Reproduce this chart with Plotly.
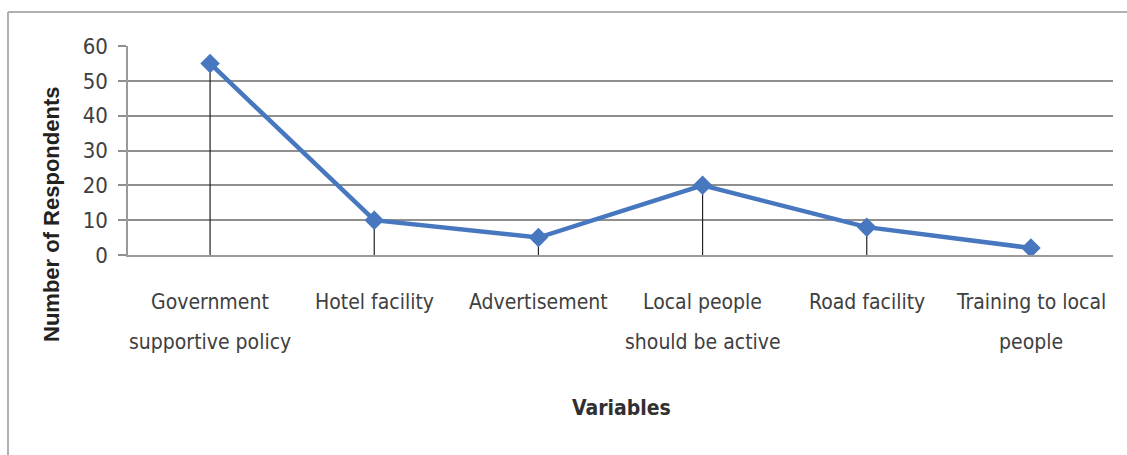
import plotly.graph_objects as go

categories = ["Government<br>supportive policy", "Hotel facility", "Advertisement",
              "Local people<br>should be active", "Road facility", "Training to local<br>people"]
respondents = [55, 10, 5, 20, 8, 2]
y_ticks = [0, 10, 20, 30, 40, 50, 60]

W, H = 1127, 455
L, R, T, B = 128, 14, 46, 200
pw, ph = W - L - R, H - T - B

def px_x(p):
    return (p - L) / pw

def px_y(p):
    return (H - B - p) / ph

NARROW = "DejaVu Sans Condensed, Roboto, sans-serif"
BLUE = "#4677BF"

fig = go.Figure()

# drop lines
fig.add_trace(go.Scatter(
    x=categories, y=respondents, mode="markers",
    marker=dict(size=1, opacity=0),
    error_y=dict(type="data", symmetric=False, array=[0] * len(respondents),
                 arrayminus=respondents, color="#222222", thickness=1.2, width=0),
    hoverinfo="skip", showlegend=False))

fig.add_trace(go.Scatter(
    x=categories, y=respondents, mode="lines+markers",
    line=dict(color=BLUE, width=4.5),
    marker=dict(symbol="diamond", size=15, color=BLUE),
    showlegend=False))

fig.update_xaxes(
    type="category", range=[-0.5, len(categories) - 0.5],
    showticklabels=False, showgrid=False, ticks="",
    showline=True, linecolor="#9a9a9a", linewidth=2, fixedrange=True)

fig.update_yaxes(
    range=[0, 60], tickvals=y_ticks, ticktext=[str(v) for v in y_ticks],
    showgrid=True, gridcolor="#8f8f8f", gridwidth=1.5,
    ticks="outside", ticklen=8, tickcolor="#8f8f8f", tickwidth=1.5,
    ticklabelstandoff=6,
    showline=True, linecolor="#9a9a9a", linewidth=1.5,
    zeroline=False,
    tickfont=dict(family=NARROW, size=22, color="#404040"))

annotations = []
for c in categories:
    parts = c.split("<br>")
    for i, part in enumerate(parts):
        annotations.append(dict(
            x=c, xref="x", y=px_y(302 + 40 * i), yref="paper",
            text=part, showarrow=False, xanchor="center", yanchor="middle",
            font=dict(family=NARROW, size=21, color="#404040")))

annotations.append(dict(
    x=px_x(621), xref="paper", y=px_y(408), yref="paper",
    text="Variables", showarrow=False, xanchor="center", yanchor="middle",
    font=dict(family=NARROW, size=21, color="#303030", weight="bold")))

annotations.append(dict(
    x=px_x(51), xref="paper", y=px_y(215), yref="paper",
    text="Number of Respondents", textangle=-90, showarrow=False,
    xanchor="center", yanchor="middle",
    font=dict(family="Liberation Sans, Arial, sans-serif", size=22,
              color="#222222", weight="bold")))

shapes = [
    dict(type="line", xref="paper", yref="paper",
         x0=px_x(8), x1=px_x(1127), y0=px_y(12), y1=px_y(12),
         line=dict(color="#b0b0b0", width=2)),
    dict(type="line", xref="paper", yref="paper",
         x0=px_x(8), x1=px_x(8), y0=px_y(12), y1=px_y(455),
         line=dict(color="#b0b0b0", width=2)),
]

fig.update_layout(
    width=W, height=H,
    margin=dict(l=L, r=R, t=T, b=B),
    paper_bgcolor="white", plot_bgcolor="white",
    annotations=annotations, shapes=shapes,
    showlegend=False)

fig.write_html("out.html")
